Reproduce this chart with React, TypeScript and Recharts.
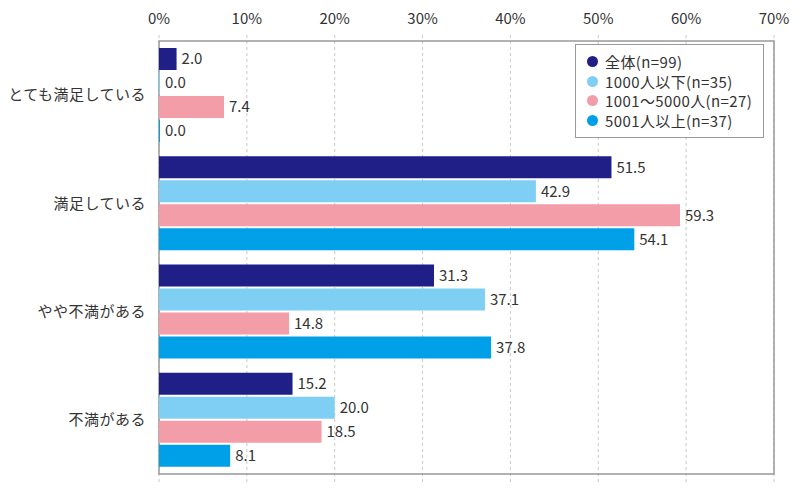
import React from "react";
import {
  BarChart,
  Bar,
  XAxis,
  YAxis,
  CartesianGrid,
  LabelList,
  ReferenceArea,
} from "recharts";

const categories = ["とても満足している", "満足している", "やや不満がある", "不満がある"];
const seriesNames = ["全体(n=99)", "1000人以下(n=35)", "1001～5000人(n=27)", "5001人以上(n=37)"];
const allValues = [2.0, 51.5, 31.3, 15.2];
const smallValues = [0.0, 42.9, 37.1, 20.0];
const midValues = [7.4, 59.3, 14.8, 18.5];
const largeValues = [0.0, 54.1, 37.8, 8.1];
const xTicks = [0, 10, 20, 30, 40, 50, 60, 70];

const colors = ["#1f1f87", "#7fcff5", "#f29da8", "#00a0e9"];
const keys = ["all", "small", "mid", "large"];

const data = categories.map((name, i) => ({
  name,
  all: allValues[i],
  small: smallValues[i],
  mid: midValues[i],
  large: largeValues[i],
}));

const font = "'Noto Sans CJK JP', 'Noto Sans', sans-serif";

function LegendBox() {
  return (
    <div
      style={{
        position: "absolute",
        left: 575,
        top: 44,
        width: 189,
        height: 94,
        boxSizing: "border-box",
        border: "1px solid #999",
        background: "#fff",
        padding: "7px 0 0 11px",
        fontFamily: font,
        fontSize: 15,
        letterSpacing: 0.4,
        color: "#333",
      }}
    >
      {seriesNames.map((s, i) => (
        <div key={s} style={{ display: "flex", alignItems: "center", height: 19.5, whiteSpace: "nowrap" }}>
          <span
            style={{
              display: "inline-block",
              width: 11,
              height: 11,
              borderRadius: "50%",
              background: colors[i],
              marginRight: 7,
              flexShrink: 0,
            }}
          />
          {s}
        </div>
      ))}
    </div>
  );
}

export default function App() {
  return (
    <div style={{ position: "absolute", left: 0, top: 0, width: 800, height: 500, background: "#fff" }}>
      <BarChart
        width={800}
        height={500}
        data={data}
        layout="vertical"
        margin={{ top: 5, right: 26, bottom: 17, left: 0 }}
        barCategoryGap={7}
        barGap={2}
      >
        <CartesianGrid horizontal={false} strokeDasharray="3 3" stroke="#c8c8c8" />
        <XAxis
          type="number"
          orientation="top"
          height={30}
          domain={[0, 70]}
          ticks={xTicks}
          tickFormatter={(v) => `${v}%`}
          axisLine={false}
          tickLine={false}
          tickMargin={5}
          tick={{ fontSize: 15, fill: "#333", fontFamily: font }}
        />
        <YAxis
          type="category"
          dataKey="name"
          width={159}
          padding={{ top: 6, bottom: 9 }}
          axisLine={false}
          tickLine={false}
          tickMargin={7}
          tick={{ fontSize: 15, fill: "#333", fontFamily: font, letterSpacing: 0.5 }}
        />
        <ReferenceArea x1={0} x2={70} stroke="#999" strokeWidth={1.5} fill="none" fillOpacity={0} />
        {keys.map((k, i) => (
          <Bar
            key={k}
            dataKey={k}
            name={seriesNames[i]}
            fill={colors[i]}
            barSize={22}
            minPointSize={1}
            isAnimationActive={false}
          >
            <LabelList
              dataKey={k}
              position="right"
              offset={5}
              formatter={(v: number) => v.toFixed(1)}
              style={{ fontSize: 15, fill: "#333", fontFamily: font }}
            />
          </Bar>
        ))}
      </BarChart>
      <LegendBox />
    </div>
  );
}
